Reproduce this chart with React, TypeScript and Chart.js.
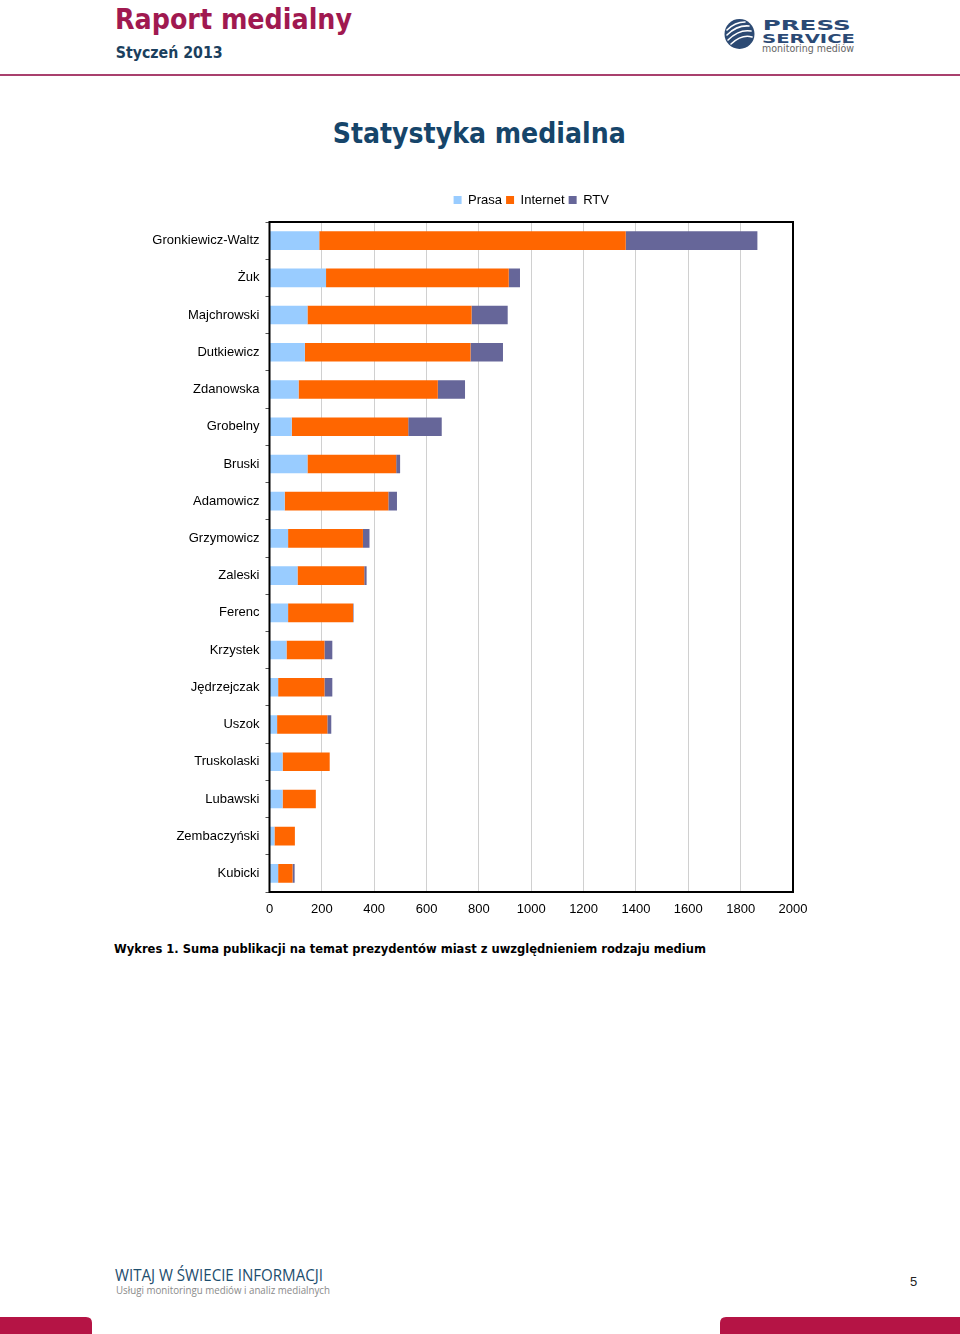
import React, { useEffect, useRef } from "react";
import { Chart, registerables } from "chart.js";

Chart.register(...registerables);

const categories = [
  "Gronkiewicz-Waltz",
  "Żuk",
  "Majchrowski",
  "Dutkiewicz",
  "Zdanowska",
  "Grobelny",
  "Bruski",
  "Adamowicz",
  "Grzymowicz",
  "Zaleski",
  "Ferenc",
  "Krzystek",
  "Jędrzejczak",
  "Uszok",
  "Truskolaski",
  "Lubawski",
  "Zembaczyński",
  "Kubicki",
];
const prasa = [190, 216, 145, 135, 111, 85, 145, 58, 71, 107, 71, 65, 33, 29, 50, 50, 19, 33];
const internet = [1171, 698, 627, 633, 532, 445, 339, 396, 286, 255, 248, 145, 177, 192, 180, 127, 78, 55];
const rtv = [503, 43, 138, 124, 104, 128, 15, 33, 25, 9, 2, 30, 30, 15, 0, 0, 0, 8];
const seriesNames = ["Prasa", "Internet", "RTV"];
const seriesColors = ["#99ccff", "#ff6600", "#666699"];
const xMin = 0;
const xMax = 2000;
const xStep = 200;

const CHART_FONT = "'Liberation Sans', Arial, Helvetica, sans-serif";
const LEGEND_TOP = 9.5;

const legendPlacer = {
  id: "legendPlacer",
  afterLayout(chart: any) {
    const lg = chart.legend;
    const ca = chart.chartArea;
    if (!lg || !ca) return;
    const h = lg.height;
    lg.left = ca.left;
    lg.right = ca.right;
    lg.width = ca.right - ca.left;
    lg.top = LEGEND_TOP;
    lg.bottom = LEGEND_TOP + h;
  },
};

const areaBorder = {
  id: "areaBorder",
  afterDraw(chart: any) {
    const { ctx, chartArea: ca } = chart;
    ctx.save();
    ctx.strokeStyle = "#000";
    ctx.lineWidth = 2;
    ctx.strokeRect(ca.left, ca.top, ca.right - ca.left, ca.bottom - ca.top);
    ctx.restore();
  },
};

function BarChart() {
  const ref = useRef<HTMLCanvasElement | null>(null);
  useEffect(() => {
    if (!ref.current) return;
    const data = [prasa, internet, rtv];
    const chart = new Chart(ref.current, {
      type: "bar",
      data: {
        labels: categories,
        datasets: seriesNames.map((name, i) => ({
          label: name,
          data: data[i],
          backgroundColor: seriesColors[i],
          borderWidth: 0,
          barPercentage: 0.5,
          categoryPercentage: 1,
        })),
      },
      options: {
        indexAxis: "y",
        responsive: false,
        animation: false,
        layout: { padding: { left: 0, right: 167, top: 15, bottom: 2.4 } },
        plugins: {
          legend: {
            display: true,
            position: "top",
            align: "center",
            labels: {
              boxWidth: 8,
              boxHeight: 8,
              padding: 4,
              color: "#000",
              font: { family: CHART_FONT, size: 13 },
            },
          },
          tooltip: { enabled: false },
        },
        scales: {
          x: {
            type: "linear",
            stacked: true,
            min: xMin,
            max: xMax,
            ticks: {
              stepSize: xStep,
              color: "#000",
              padding: 10,
              font: { family: CHART_FONT, size: 13 },
              callback: (v: any) => String(v),
            },
            grid: {
              color: "#d0d0d0",
              lineWidth: 1,
              drawTicks: false,
            },
            border: { display: false },
          },
          y: {
            stacked: true,
            ticks: {
              color: "#000",
              padding: 6,
              font: { family: CHART_FONT, size: 13 },
            },
            grid: {
              display: true,
              drawOnChartArea: false,
              drawTicks: true,
              tickLength: 4,
              color: "#555",
              offset: true,
            },
            border: { display: false },
            afterFit(scale: any) {
              scale.width = 269.5;
            },
          },
        },
      },
      plugins: [legendPlacer, areaBorder],
    } as any);
    return () => chart.destroy();
  }, []);
  return (
    <canvas
      ref={ref}
      width={960}
      height={750}
      style={{ position: "absolute", left: 0, top: 180, width: 960, height: 750 }}
    />
  );
}

const HEAD_FONT = "'DejaVu Sans Condensed', 'DejaVu Sans', Verdana, sans-serif";

function Page() {
  return (
    <svg
      width={960}
      height={1334}
      viewBox="0 0 960 1334"
      style={{ position: "absolute", left: 0, top: 0 }}
    >
      <rect x={0} y={0} width={960} height={1334} fill="#ffffff" />
      <text
        x={115}
        y={28.5}
        fontFamily={HEAD_FONT}
        fontWeight="bold"
        fontSize={28}
        fill="#a01950"
        textLength={237}
        lengthAdjust="spacingAndGlyphs"
      >
        Raport medialny
      </text>
      <text
        x={115.7}
        y={58.3}
        fontFamily={HEAD_FONT}
        fontWeight="bold"
        fontSize={16}
        fill="#1b3f5e"
        textLength={107}
        lengthAdjust="spacingAndGlyphs"
      >
        Styczeń 2013
      </text>
      <rect x={0} y={74} width={960} height={2} fill="#a9406d" />

      {/* logo */}
      <defs>
        <clipPath id="logoClip">
          <circle cx={739.5} cy={34} r={15} />
        </clipPath>
      </defs>
      <circle cx={739.5} cy={34} r={15} fill="#2c4a73" />
      <g clipPath="url(#logoClip)" stroke="#ffffff" strokeWidth={1.6} fill="none" strokeLinecap="round">
        <path d="M727,30 Q735,22 745,22" />
        <path d="M727,35 Q737,25 749,26" />
        <path d="M728,40 Q739,29 751,31" />
        <path d="M731,44 Q742,34 752,37" />
      </g>
      <text
        x={762.7}
        y={30}
        fontFamily="'DejaVu Sans', sans-serif"
        fontWeight="bold"
        fontSize={13.5}
        fill="#2b4a75"
        textLength={88}
        lengthAdjust="spacingAndGlyphs"
      >
        PRESS
      </text>
      <text
        x={762}
        y={42.7}
        fontFamily="'DejaVu Sans', sans-serif"
        fontWeight="bold"
        fontSize={13}
        fill="#2b4a75"
        textLength={93}
        lengthAdjust="spacingAndGlyphs"
      >
        SERVICE
      </text>
      <text
        x={762}
        y={52}
        fontFamily="'DejaVu Sans', sans-serif"
        fontSize={10}
        fill="#666666"
        textLength={92}
        lengthAdjust="spacingAndGlyphs"
      >
        monitoring mediów
      </text>

      <text
        x={332.7}
        y={143.3}
        fontFamily={HEAD_FONT}
        fontWeight="bold"
        fontSize={28}
        fill="#16456a"
        textLength={293}
        lengthAdjust="spacingAndGlyphs"
      >
        Statystyka medialna
      </text>

      <text
        x={114}
        y={952.7}
        fontFamily={HEAD_FONT}
        fontWeight="bold"
        fontSize={12.5}
        fill="#000000"
        textLength={592}
        lengthAdjust="spacingAndGlyphs"
      >
        Wykres 1. Suma publikacji na temat prezydentów miast z uwzględnieniem rodzaju medium
      </text>

      <text
        x={115}
        y={1281}
        fontFamily="'Open Sans', 'Noto Sans', sans-serif"
        fontSize={16}
        fill="#1d4e6e"
        textLength={208}
        lengthAdjust="spacingAndGlyphs"
      >
        WITAJ W ŚWIECIE INFORMACJI
      </text>
      <text
        x={116}
        y={1293.5}
        fontFamily="'Open Sans', 'Noto Sans', sans-serif"
        fontSize={11}
        fill="#8a8a8a"
        textLength={214}
        lengthAdjust="spacingAndGlyphs"
      >
        Usługi monitoringu mediów i analiz medialnych
      </text>
      <text
        x={910}
        y={1286}
        fontFamily="'Liberation Sans', Arial, sans-serif"
        fontSize={13}
        fill="#222222"
      >
        5
      </text>
      <path d="M0,1317 H86 Q92,1317 92,1323 V1334 H0 Z" fill="#b51445" />
      <path d="M726,1317 H960 V1334 H720 V1323 Q720,1317 726,1317 Z" fill="#b51445" />
    </svg>
  );
}

export default function App() {
  return (
    <div style={{ position: "absolute", left: 0, top: 0, width: 960, height: 1334, background: "#fff" }}>
      <Page />
      <BarChart />
    </div>
  );
}
